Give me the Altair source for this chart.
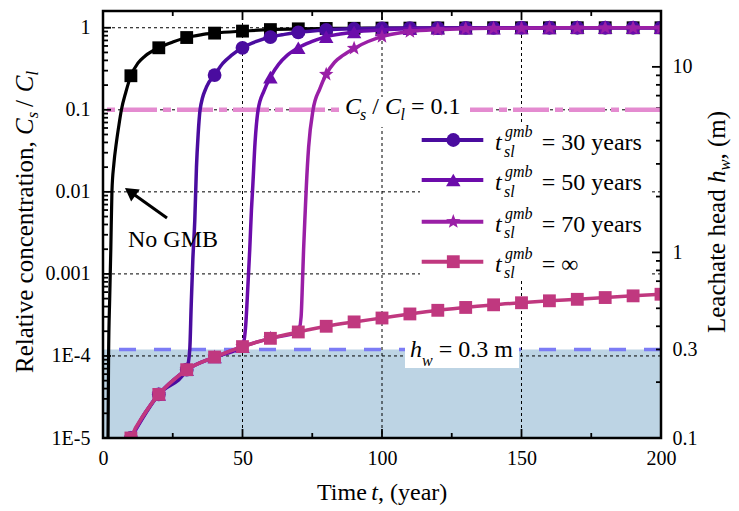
import math
import altair as alt
import pandas as pd

FONT = "Liberation Serif, Times New Roman, Times, serif"
W, H = 558, 427

# ---------------- data ----------------
# Time (years) and relative concentration Cs/Cl
no_gmb_t = [1.6, 1.8, 2.0, 2.4, 2.8, 3.2, 3.9, 4.8, 5.7, 6.6, 8.2, 10, 12.5, 15, 20, 25, 30, 35, 40, 50,
            60, 70, 80, 90, 100, 110, 120, 130, 140, 150, 160, 170, 180, 190, 200]
no_gmb_c = [2e-6, 1e-5, 1e-4, 5e-4, 2e-3, 0.01, 0.022, 0.04, 0.065, 0.1, 0.165, 0.26, 0.37, 0.45, 0.57, 0.67, 0.76, 0.82, 0.86, 0.91,
            0.95, 0.97, 0.98, 0.985, 0.99, 0.99, 0.995, 0.995, 1.0, 1.0, 1.0, 1.0, 1.0, 1.0, 1.0]

s30_t = [10, 20, 30, 31.1, 31.6, 32.2, 32.9, 33.5, 34.1, 34.8, 37.1, 40, 43, 46, 50, 55, 60, 65, 70, 80,
         90, 100, 110, 120, 130, 140, 150, 160, 170, 180, 190, 200]
s30_c = [1e-5, 3.4e-5, 6.8e-5, 1.2e-4, 4e-4, 1.5e-3, 4.5e-3, 0.02, 0.05, 0.1, 0.19, 0.265, 0.37, 0.46, 0.57, 0.68, 0.77, 0.83, 0.88, 0.94,
         0.97, 0.985, 0.99, 0.99, 0.995, 0.995, 1.0, 1.0, 1.0, 1.0, 1.0, 1.0]

s50_t = [10, 15, 20, 25, 30, 40, 50, 51.2, 51.7, 52.6, 53.2, 53.7, 54.5, 55.6, 57.7, 60, 63, 66, 70, 75,
         80, 85, 90, 100, 110, 120, 130, 140, 150, 160, 170, 180, 190, 200]
s50_c = [1e-5, 2e-5, 3.4e-5, 5e-5, 6.8e-5, 9.7e-5, 1.3e-4, 2.5e-4, 5e-4, 2e-3, 6e-3, 0.012, 0.04, 0.1, 0.17, 0.25, 0.36, 0.46, 0.57, 0.68,
         0.78, 0.84, 0.89, 0.94, 0.97, 0.985, 0.99, 0.99, 0.995, 0.995, 1.0, 1.0, 1.0, 1.0]

s70_t = [10, 15, 20, 25, 30, 40, 50, 60, 70, 71.0, 71.5, 71.9, 72.5, 72.9, 73.7, 75.3, 77.7, 80, 83, 86,
         90, 95, 100, 105, 110, 120, 130, 140, 150, 160, 170, 180, 190, 200]
s70_c = [1e-5, 2e-5, 3.4e-5, 5e-5, 6.8e-5, 9.7e-5, 1.3e-4, 1.64e-4, 1.96e-4, 3e-4, 8e-4, 2e-3, 6e-3, 0.012, 0.035, 0.1, 0.18, 0.27, 0.38, 0.46,
         0.56, 0.68, 0.78, 0.85, 0.9, 0.95, 0.975, 0.985, 0.99, 0.995, 1.0, 1.0, 1.0, 1.0]

inf_t = [8, 10, 15, 20, 25, 30, 40, 50, 60, 70, 80, 90, 100, 110, 120, 130, 140, 150, 160, 170, 180, 190, 200]
inf_c = [6e-6, 1e-5, 2e-5, 3.4e-5, 5e-5, 6.8e-5, 9.7e-5, 1.3e-4, 1.64e-4, 1.96e-4, 2.3e-4, 2.6e-4, 2.9e-4, 3.25e-4,
         3.6e-4, 3.9e-4, 4.2e-4, 4.45e-4, 4.7e-4, 4.9e-4, 5.15e-4, 5.4e-4, 5.65e-4]

legend_labels = ["= 30 years", "= 50 years", "= 70 years", "= \u221e"]

x_domain = [0, 200]
left_domain = [1e-5, 1.6]
right_domain = [0.1, 20]
x_tick_values = [0, 50, 100, 150, 200]
x_major_marks = [50, 100, 150]
x_minor_marks = [25, 75, 125, 175]
left_tick_values = [1e-5, 1e-4, 1e-3, 1e-2, 0.1, 1]
left_tick_labels = ["1E-5", "1E-4", "0.001", "0.01", "0.1", "1"]
right_tick_values = [0.1, 0.3, 1, 10]
right_tick_labels = ["0.1", "0.3", "1", "10"]
right_major_marks = [0.1, 1, 10]
grid_x = [50, 100, 150]
grid_y = [1e-4, 1e-3, 1e-2, 0.1, 1]
ratio_level = [0.1]        # Cs/Cl = 0.1
hw_level = [0.3]           # leachate head 0.3 m
hw_floor = [0.1]

left_minor_marks = [k * 10.0 ** e for e in range(-5, 1) for k in range(2, 10) if k * 10.0 ** e < 1.6]
right_minor_marks = [k * 10.0 ** e for e in range(-1, 2) for k in range(2, 10) if k * 10.0 ** e < 20]

# ---------------- styles ----------------
C_BLACK = "#000000"
C30 = "#4a0c9f"
C50 = "#6c0cab"
C70 = "#9a1fa6"
CINF = "#c0387f"
C_PINK = "#e48bd0"
C_BLUE = "#7c7cf5"
C_FILL = "#bdd4e4"
STAR = ("M0,-1 L0.247,-0.34 L0.951,-0.309 L0.399,0.13 L0.588,0.809 L0,0.42 "
        "L-0.588,0.809 L-0.399,0.13 L-0.951,-0.309 L-0.247,-0.34 Z")

X_SCALE = alt.Scale(domain=x_domain, nice=False, zero=False)
YL_SCALE = alt.Scale(type="log", domain=left_domain, nice=False)
YR_SCALE = alt.Scale(type="log", domain=right_domain, nice=False)

ONE = pd.DataFrame({"k": [0]})


def label_expr(values, labels):
    expr = "''"
    for v, l in reversed(list(zip(values, labels))):
        expr = f"abs(log(datum.value)/LN10 - ({math.log10(v):.4f})) < 0.01 ? '{l}' : ({expr})"
    return expr


X_AXIS = alt.Axis(values=x_tick_values, ticks=False, domain=False, grid=False, labelFont=FONT,
                  labelFontSize=20, labelColor="black", labelPadding=10, labelFlush=False, title=None,
                  orient="bottom")
LEFT_AXIS = alt.Axis(values=left_tick_values, labelExpr=label_expr(left_tick_values, left_tick_labels),
                     ticks=False, domain=False, grid=False, labelFont=FONT, labelFontSize=20,
                     labelColor="black", labelPadding=13, title=None, orient="left")
RIGHT_AXIS = alt.Axis(values=right_tick_values, labelExpr=label_expr(right_tick_values, right_tick_labels),
                      ticks=False, domain=False, grid=False, labelFont=FONT, labelFontSize=20,
                      labelColor="black", labelPadding=11, title=None, orient="right")


def X(field):
    return alt.X(field, type="quantitative", scale=X_SCALE, axis=X_AXIS)


def YL(field):
    return alt.Y(field, type="quantitative", scale=YL_SCALE, axis=LEFT_AXIS)


def YR(field):
    return alt.Y(field, type="quantitative", scale=YR_SCALE, axis=RIGHT_AXIS)


def txt(s, x, y, size=24, italic=False, angle=0, align="left"):
    props = dict(text=s, font=FONT, fontSize=size, align=align, baseline="alphabetic", color="black")
    if italic:
        props["fontStyle"] = "italic"
    if angle:
        props["angle"] = angle
    return alt.Chart(ONE).mark_text(**props).encode(x=alt.value(x), y=alt.value(y))


def box(x0, x1, y0, y1):
    return alt.Chart(ONE).mark_rect(color="white").encode(
        x=alt.value(x0), x2=alt.value(x1), y=alt.value(y0), y2=alt.value(y1))


# ---------------- right-scale group (leachate head) ----------------
fill_df = pd.DataFrame({"x0": [x_domain[0]], "x1": [x_domain[1]], "h0": hw_floor, "h1": hw_level})
fill = alt.Chart(fill_df).mark_rect(color=C_FILL, clip=True).encode(
    x=X("x0"), x2="x1", y=YR("h0"), y2="h1")
hw_line = alt.Chart(pd.DataFrame({"h": hw_level})).mark_rule(
    color=C_BLUE, strokeWidth=3.5, strokeDash=[17, 18]).encode(y=YR("h"))


def rticks(vals, length):
    return alt.Chart(pd.DataFrame({"v": vals})).mark_rule(color="black", strokeWidth=1.8).encode(
        y=YR("v"), x=alt.value(W), x2=alt.value(W - length))


right_group = alt.layer(fill, hw_line, rticks(right_major_marks, 9), rticks(right_minor_marks, 5))

# ---------------- left-scale group (concentration) ----------------
grid_v = alt.Chart(pd.DataFrame({"v": grid_x})).mark_rule(
    color="black", strokeWidth=1, strokeDash=[3, 3]).encode(x=X("v"))
grid_h = alt.Chart(pd.DataFrame({"v": grid_y})).mark_rule(
    color="black", strokeWidth=1, strokeDash=[3, 3]).encode(y=YL("v"))
ratio_line = alt.Chart(pd.DataFrame({"v": ratio_level})).mark_rule(
    color=C_PINK, strokeWidth=4.5, strokeDash=[36, 6, 8, 6]).encode(y=YL("v"))


def lticks(vals, length):
    return alt.Chart(pd.DataFrame({"v": vals})).mark_rule(color="black", strokeWidth=1.8).encode(
        y=YL("v"), x=alt.value(0), x2=alt.value(length))


def xticks(vals, length):
    d = pd.DataFrame({"v": vals})
    bot = alt.Chart(d).mark_rule(color="black", strokeWidth=1.8).encode(
        x=X("v"), y=alt.value(H), y2=alt.value(H - length))
    top = alt.Chart(d).mark_rule(color="black", strokeWidth=1.8).encode(
        x=X("v"), y=alt.value(0), y2=alt.value(length))
    return [bot, top]


def curve(t, c, color, shape, size, width=3.5):
    df = pd.DataFrame({"t": t, "c": c})
    base = alt.Chart(df)
    line = base.mark_line(interpolate="monotone", clip=True, color=color, strokeWidth=width).encode(
        x=X("t"), y=YL("c"))
    pts = base.transform_filter("datum.t % 10 == 0").mark_point(
        shape=shape, size=size, filled=True, color=color, opacity=1, clip=True, strokeWidth=0
    ).encode(x=X("t"), y=YL("c"))
    return [line, pts]


layers = [grid_v, grid_h, ratio_line]
layers += [box(237, 367, 86, 116), box(302, 416, 322, 357), box(317, 548, 111, 270)]
layers += [lticks(left_tick_values, 8), lticks(left_minor_marks, 5)]
layers += xticks(x_major_marks, 9) + xticks(x_minor_marks, 5)
layers += curve(no_gmb_t, no_gmb_c, C_BLACK, "square", 165, width=3.2)
layers += curve(s30_t, s30_c, C30, "circle", 190)
layers += curve(s50_t, s50_c, C50, "triangle-up", 210)
layers += curve(s70_t, s70_c, C70, STAR, 230)
layers += curve(inf_t, inf_c, CINF, "square", 165)

# legend
row_y = [129, 169, 210.7, 250.7]
legend_style = [(C30, "circle", 190), (C50, "triangle-up", 210), (C70, STAR, 230), (CINF, "square", 165)]
for cy, (col, shp, sz), lab in zip(row_y, legend_style, legend_labels):
    layers.append(alt.Chart(ONE).mark_rule(color=col, strokeWidth=4).encode(
        x=alt.value(318.7), x2=alt.value(380.3), y=alt.value(cy)))
    layers.append(alt.Chart(ONE).mark_point(shape=shp, size=sz, filled=True, color=col, opacity=1,
                                            strokeWidth=0).encode(x=alt.value(350.3), y=alt.value(cy)))
    layers.append(txt("t", 392, cy + 10, 24, italic=True))
    layers.append(txt("gmb", 402, cy - 3, 16, italic=True))
    layers.append(txt("sl", 401, cy + 16.5, 16, italic=True))
    layers.append(txt(lab, 438.7, cy + 10, 24))

# Cs / Cl = 0.1 label
layers += [txt("C", 242, 103, 24, italic=True), txt("s", 257, 109, 16, italic=True),
           txt("/", 269.2, 103, 24), txt("C", 281.9, 103, 24, italic=True),
           txt("l", 297.5, 109, 16, italic=True), txt("= 0.1", 308, 103, 24)]
# hw = 0.3 m label
layers += [txt("h", 307, 345.7, 24, italic=True), txt("w", 319, 354.5, 16, italic=True),
           txt("= 0.3 m", 335.7, 345.7, 24)]
# No GMB arrow and label
layers.append(alt.Chart(ONE).mark_rule(color="black", strokeWidth=3).encode(
    x=alt.value(64), y=alt.value(207), x2=alt.value(27.2), y2=alt.value(180.7)))
layers.append(alt.Chart(ONE).mark_point(shape="triangle-up", size=220, filled=True, color="black",
                                        opacity=1, angle=305.5, strokeWidth=0).encode(
    x=alt.value(27.2), y=alt.value(180.7)))
layers.append(txt("No GMB", 25, 236, 24))

# axis titles (composed for italic / subscripts)
layers += [txt("Time", 214, 489, 24), txt("t", 268.3, 489, 24, italic=True), txt(", (year)", 275, 489, 24)]
layers += [txt("Relative concentration,", -70, 362, 25, angle=270),
           txt("C", -70, 123.9, 25, italic=True, angle=270),
           txt("s", -65, 107.2, 16.5, italic=True, angle=270),
           txt("/", -70, 95.9, 25, angle=270),
           txt("C", -70, 81.3, 25, italic=True, angle=270),
           txt("l", -65, 64.6, 16.5, italic=True, angle=270)]
layers += [txt("Leachate head", 622, 322, 25, angle=270),
           txt("h", 622, 172.1, 25, italic=True, angle=270),
           txt("w", 627, 159.6, 16.5, italic=True, angle=270),
           txt(", (m)", 622, 148.6, 25, angle=270)]

# frame
layers.append(alt.Chart(ONE).mark_rect(fillOpacity=0, stroke="black", strokeWidth=2.5).encode(
    x=alt.value(0), x2=alt.value(W), y=alt.value(0), y2=alt.value(H)))

left_group = alt.layer(*layers)

chart = alt.layer(right_group, left_group).resolve_scale(y="independent").properties(
    width=W, height=H,
    autosize=alt.AutoSizeParams(type="none"),
    padding={"left": 103, "top": 11, "right": 78, "bottom": 73},
).configure_view(strokeWidth=0)

chart.save("out.html", embed_options={"renderer": "svg", "actions": False})
